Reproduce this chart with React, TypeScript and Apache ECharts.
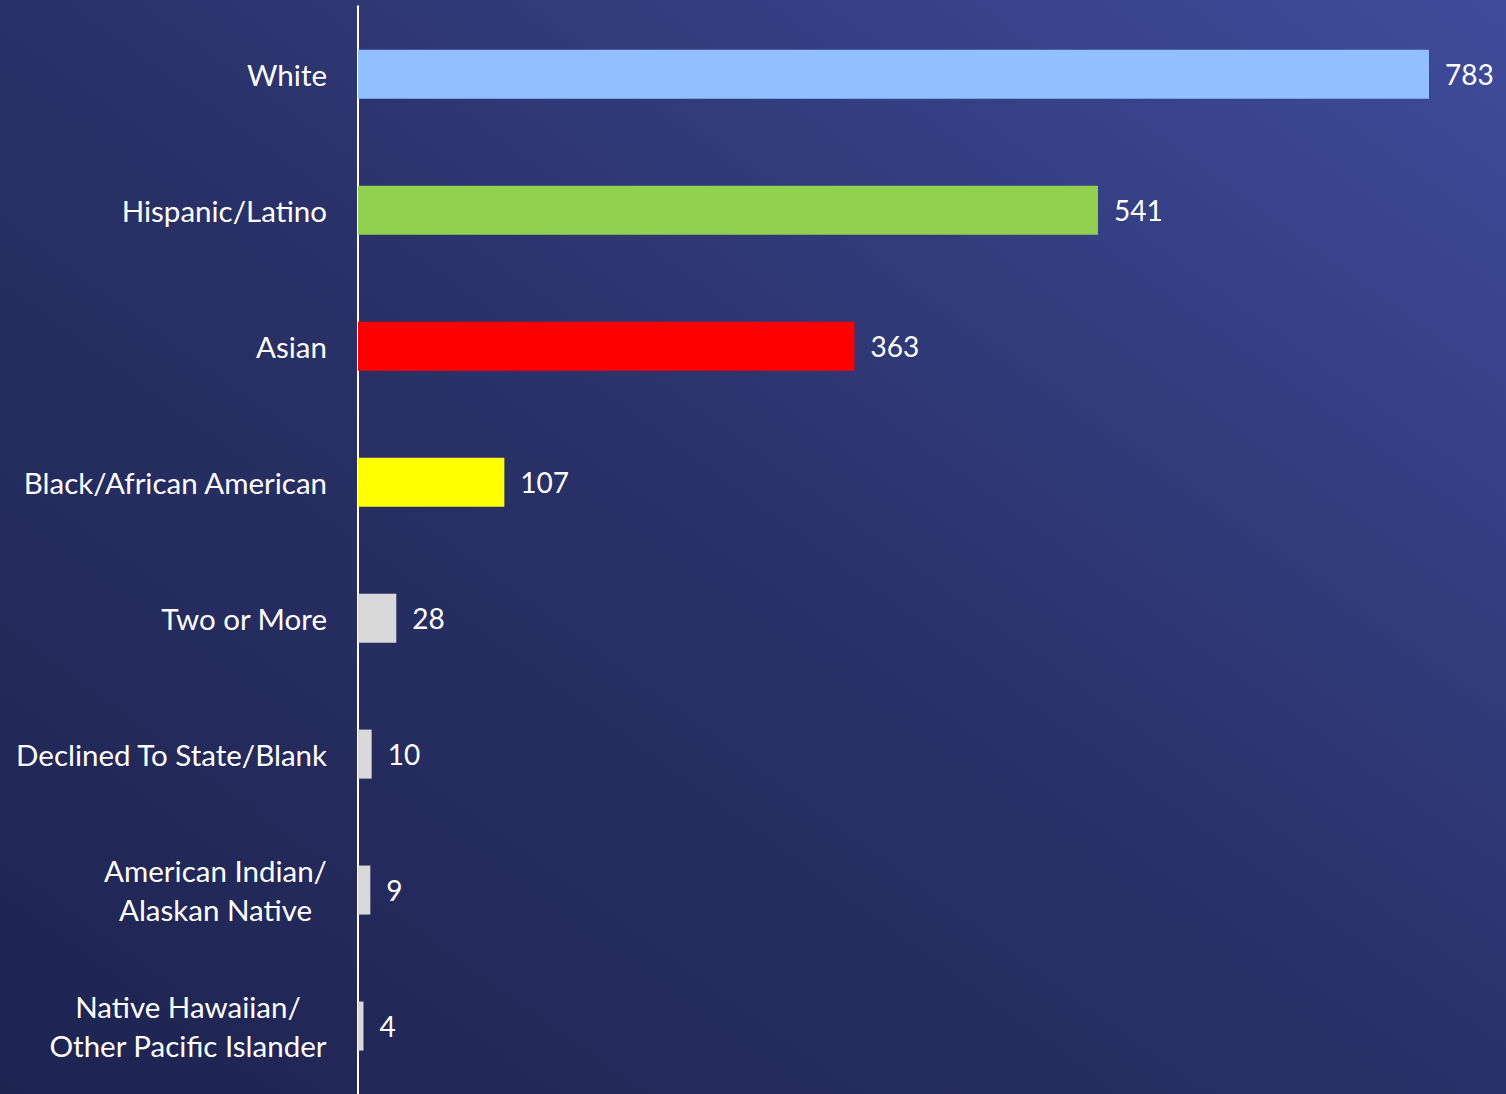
import React, { useEffect, useRef } from "react";
import * as echarts from "echarts";

const categories = [
  "White",
  "Hispanic/Latino",
  "Asian",
  "Black/African American",
  "Two or More",
  "Declined To State/Blank",
  "American Indian/\nAlaskan Native",
  "Native Hawaiian/\nOther Pacific Islander",
];
const values = [783, 541, 363, 107, 28, 10, 9, 4];
const barColors = ["#92BFFF", "#92D050", "#FF0000", "#FFFF00", "#D9D9D9", "#D9D9D9", "#D9D9D9", "#D9D9D9"];

const FONT = "Lato, 'Open Sans', sans-serif";
const LABEL_SIZE = 29.5;

function measure(text: string): number {
  const c = document.createElement("canvas").getContext("2d");
  if (!c) return text.length * 14;
  c.font = `${LABEL_SIZE}px ${FONT}`;
  return Math.ceil(c.measureText(text).width);
}

export default function App() {
  const ref = useRef<HTMLDivElement>(null);
  useEffect(() => {
    if (!ref.current) return;
    const chart = echarts.init(ref.current, undefined, { renderer: "svg" });
    const cats = [...categories].reverse();
    const vals = [...values].reverse();
    const cols = [...barColors].reverse();
    const rich: Record<string, any> = {};
    cats.forEach((c, i) => {
      if (c.indexOf("\n") >= 0) {
        const w = Math.max(...c.split("\n").map(measure));
        rich["r" + i] = {
          width: w,
          align: "center",
          color: "#FFFFFF",
          fontSize: LABEL_SIZE,
          fontFamily: FONT,
          lineHeight: 39,
        };
      }
    });
    chart.setOption({
      animation: false,
      backgroundColor: new echarts.graphic.LinearGradient(0, 1, 1, 0, [
        { offset: 0, color: "#1E2450" },
        { offset: 0.5, color: "#2A3168" },
        { offset: 1, color: "#3F4C9C" },
      ]),
      grid: { left: 358, right: 77, top: 6.3, bottom: -3, containLabel: false },
      xAxis: {
        type: "value",
        min: 0,
        max: 783,
        show: false,
      },
      yAxis: {
        type: "category",
        data: cats,
        axisLine: { show: true, lineStyle: { color: "#FFFFFF", width: 2 } },
        axisTick: { show: false },
        axisLabel: {
          color: "#FFFFFF",
          fontSize: LABEL_SIZE,
          fontFamily: FONT,
          margin: 31,
          lineHeight: 39,
          formatter: (v: string, idx: number) => {
            if (v.indexOf("\n") < 0) return v;
            return v
              .split("\n")
              .map((p) => `{r${idx}|${p}}`)
              .join("\n");
          },
          rich,
        },
        splitLine: { show: false },
      },
      series: [
        {
          type: "bar",
          data: vals.map((v, i) => ({ value: v, itemStyle: { color: cols[i] } })),
          barWidth: 49,
          label: {
            show: true,
            position: "right",
            distance: 16,
            color: "#FFFFFF",
            fontSize: 28,
            fontFamily: FONT,
          },
        },
      ],
    });
    return () => chart.dispose();
  }, []);
  return (
    <div
      ref={ref}
      style={{ position: "fixed", left: 0, top: 0, width: 1506, height: 1094 }}
    />
  );
}
